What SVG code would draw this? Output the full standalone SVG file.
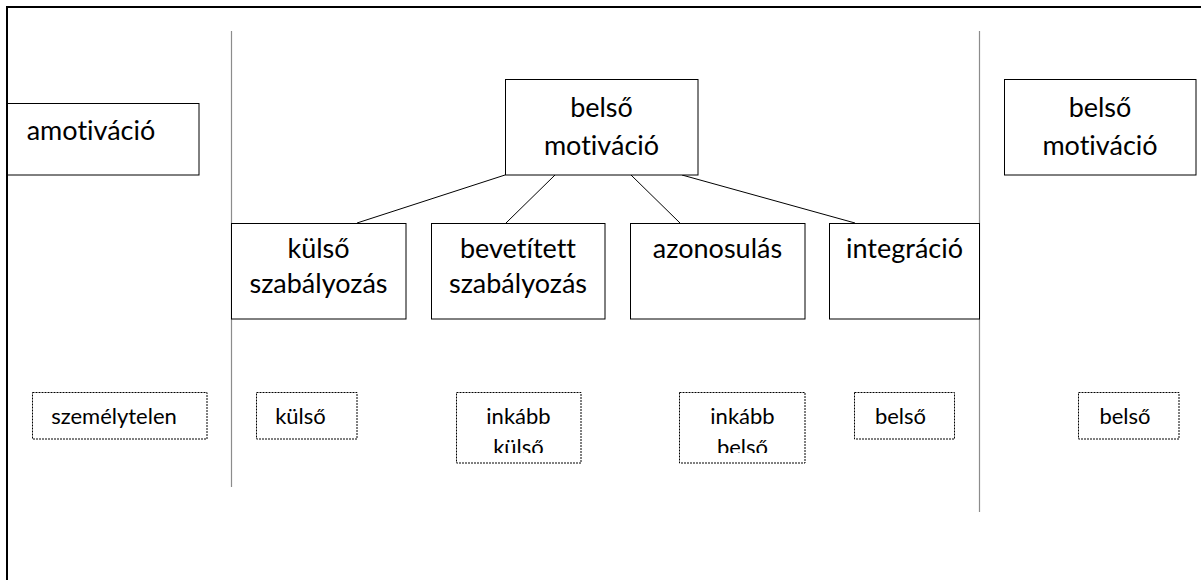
<svg xmlns="http://www.w3.org/2000/svg" width="1201" height="580" viewBox="0 0 1201 580">
<style>
.box{fill:#fff;stroke:#000;stroke-width:1}
.dot{fill:#fff;stroke:#000;stroke-width:1;stroke-dasharray:2 1}
.sep{stroke:#8c8c8c;stroke-width:1.2}
.con{stroke:#000;stroke-width:1;fill:none}
text{font-variant-ligatures:none;font-feature-settings:"liga" 0;fill:#000;text-anchor:middle;font-family:Lato,"Open Sans",sans-serif}
.big{font-size:27px}
.sm{font-size:22px}
</style>
<defs>
<clipPath id="c1"><rect x="456" y="392" width="125" height="61"/></clipPath>
<clipPath id="c2"><rect x="679" y="392" width="126" height="61"/></clipPath>
</defs>
<rect x="0" y="0" width="1201" height="580" fill="#fff"/>
<g id="frame">
<line x1="7" y1="7" x2="1201" y2="7" stroke="#000" stroke-width="2"/>
<line x1="7" y1="6" x2="7" y2="580" stroke="#000" stroke-width="2"/>
</g>
<g id="separators">
<line class="sep" x1="231.5" y1="31" x2="231.5" y2="487"/>
<line class="sep" x1="979.5" y1="31" x2="979.5" y2="512"/>
</g>
<g id="connectors">
<line class="con" x1="505" y1="175" x2="357" y2="223"/>
<line class="con" x1="555" y1="175" x2="506" y2="223"/>
<line class="con" x1="631" y1="175" x2="680" y2="223"/>
<line class="con" x1="682" y1="175" x2="855" y2="223"/>
</g>
<g id="amotivacio">
<rect class="box" x="7.5" y="103.5" width="191.5" height="71.5"/>
<text class="big" x="91" y="140">amotiváció</text>
</g>
<g id="belso-motivacio">
<rect class="box" x="505.5" y="79.5" width="192.5" height="95.5"/>
<text class="big" x="601.5" y="117">belső</text>
<text class="big" x="601.5" y="155">motiváció</text>
</g>
<g id="belso-motivacio-2">
<rect class="box" x="1004.5" y="79.5" width="191.5" height="95.5"/>
<text class="big" x="1100" y="117">belső</text>
<text class="big" x="1100" y="155">motiváció</text>
</g>
<g id="kulso-szabalyozas">
<rect class="box" x="231.5" y="223.5" width="174.5" height="95.5"/>
<text class="big" x="318.5" y="258">külső</text>
<text class="big" x="318.5" y="293">szabályozás</text>
</g>
<g id="bevetitett-szabalyozas">
<rect class="box" x="431.5" y="223.5" width="173.5" height="95.5"/>
<text class="big" x="518" y="258">bevetített</text>
<text class="big" x="518" y="293">szabályozás</text>
</g>
<g id="azonosulas">
<rect class="box" x="630.5" y="223.5" width="174.5" height="95.5"/>
<text class="big" x="717.5" y="258">azonosulás</text>
</g>
<g id="integracio">
<rect class="box" x="829.5" y="223.5" width="150" height="95.5"/>
<text class="big" x="904.5" y="258">integráció</text>
</g>
<g id="szemelytelen">
<rect class="dot" x="32.5" y="392.5" width="174.5" height="46.5"/>
<text class="sm" x="114" y="424">személytelen</text>
</g>
<g id="kulso">
<rect class="dot" x="256.5" y="392.5" width="100.5" height="46.5"/>
<text class="sm" x="300.5" y="424">külső</text>
</g>
<g id="inkabb-kulso">
<rect class="dot" x="456.5" y="392.5" width="124.5" height="70.5"/>
<g clip-path="url(#c1)">
<text class="sm" x="518.5" y="424">inkább</text>
<text class="sm" x="518.5" y="455">külső</text>
</g>
</g>
<g id="inkabb-belso">
<rect class="dot" x="679.5" y="392.5" width="125.5" height="70.5"/>
<g clip-path="url(#c2)">
<text class="sm" x="742.5" y="424">inkább</text>
<text class="sm" x="742.5" y="455">belső</text>
</g>
</g>
<g id="belso">
<rect class="dot" x="854.5" y="392.5" width="100" height="46.5"/>
<text class="sm" x="900.5" y="424">belső</text>
</g>
<g id="belso-2">
<rect class="dot" x="1078.5" y="392.5" width="100.5" height="46.5"/>
<text class="sm" x="1125" y="424">belső</text>
</g>
</svg>
